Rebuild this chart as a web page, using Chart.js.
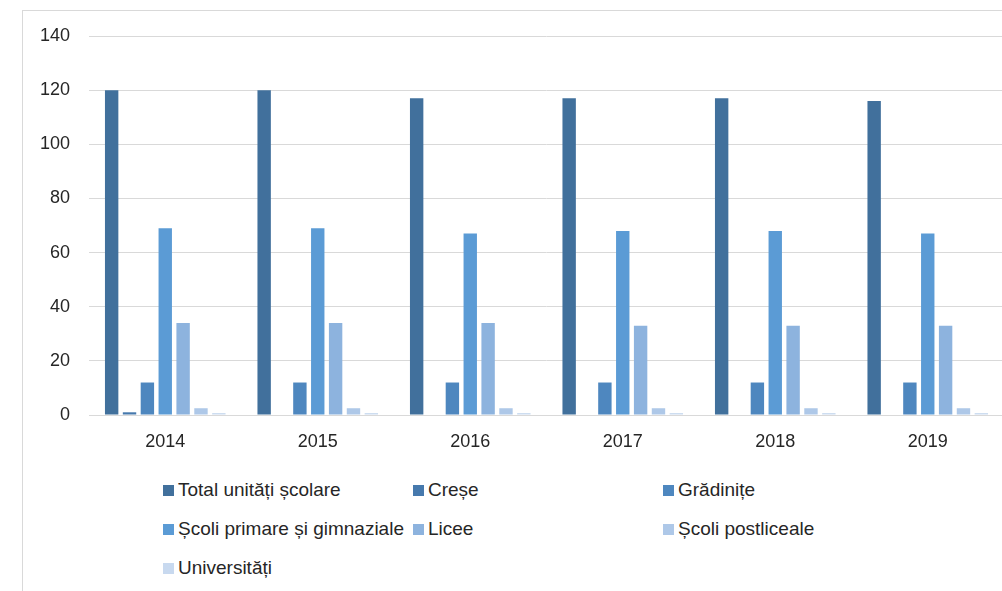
<!DOCTYPE html>
<html>
<head>
<meta charset="utf-8">
<script src="https://cdn.jsdelivr.net/npm/chart.js@4"></script>
<style>
  body { margin: 0; background: #fff; overflow: hidden; width: 1002px; height: 591px; position: relative; }
  #frame { position: absolute; left: 22px; top: 10px; width: 1100px; height: 700px; border: 1px solid #d9d9d9; }
  #wrap { position: absolute; left: 0; top: 0; }
  #legend { position: absolute; left: 0; top: 0; font-family: "Liberation Sans", Arial, sans-serif; font-size: 19px; color: #262626; }
  .item { position: absolute; white-space: nowrap; display: flex; align-items: center; height: 24px; }
  .box { width: 11px; height: 11px; margin-right: 4px; }
</style>
</head>
<body>
<div id="frame"></div>
<div id="wrap"><canvas id="schoolChart" width="1004" height="470"></canvas></div>
<div id="legend"></div>
<script>
const years = ["2014", "2015", "2016", "2017", "2018", "2019"];
const seriesNames = [
  "Total unități școlare",
  "Creșe",
  "Grădinițe",
  "Școli primare și gimnaziale",
  "Licee",
  "Școli postliceale",
  "Universități"
];
const total = [120, 120, 117, 117, 117, 116];
const crese = [1, 0, 0, 0, 0, 0];
const gradinite = [12, 12, 12, 12, 12, 12];
const scoliPrimare = [69, 69, 67, 68, 68, 67];
const licee = [34, 34, 34, 33, 33, 33];
const postliceale = [2.5, 2.5, 2.5, 2.5, 2.5, 2.5];
const universitati = [0.7, 0.7, 0.7, 0.7, 0.7, 0.7];
const yTicks = [0, 20, 40, 60, 80, 100, 120, 140];

const colors = ["#41709c", "#4679ad", "#4e87bf", "#5b9bd5", "#8db3de", "#aec8e8", "#c8d9ef"];
const values = [total, crese, gradinite, scoliPrimare, licee, postliceale, universitati];

const font = "'Liberation Sans', Arial, sans-serif";

const chart = new Chart(document.getElementById("schoolChart"), {
  type: "bar",
  data: {
    labels: years,
    datasets: seriesNames.map((name, i) => ({
      label: name,
      data: values[i],
      backgroundColor: colors[i],
      borderWidth: 0,
      categoryPercentage: 0.82,
      barPercentage: 0.75
    }))
  },
  options: {
    responsive: false,
    animation: false,
    layout: { padding: { top: 36, right: 0, bottom: 0, left: 0 } },
    plugins: { legend: { display: false }, tooltip: { enabled: false } },
    scales: {
      x: {
        grid: { display: false, drawTicks: false },
        border: { color: "#d9d9d9" },
        ticks: { color: "#262626", font: { family: font, size: 18 }, padding: 16 },
        afterFit: (s) => { s.height = 55; }
      },
      y: {
        min: 0,
        max: 140,
        grid: { color: "#d9d9d9", drawTicks: false },
        border: { display: false },
        afterBuildTicks: (s) => { s.ticks = yTicks.map((v) => ({ value: v })); },
        ticks: { color: "#262626", font: { family: font, size: 18 }, padding: 19 },
        afterFit: (s) => { s.width = 89; }
      }
    }
  }
});

// legend laid out like the Excel grid: 3 columns, rows top to bottom
const legend = document.getElementById("legend");
const colX = [163, 413, 663];
const rowY = [490, 529, 568];
chart.data.datasets.forEach((ds, i) => {
  const el = document.createElement("div");
  el.className = "item";
  el.style.left = colX[i % 3] + "px";
  el.style.top = (rowY[Math.floor(i / 3)] - 12) + "px";
  el.innerHTML = '<span class="box" style="background:' + ds.backgroundColor + '"></span>';
  el.appendChild(document.createTextNode(ds.label));
  legend.appendChild(el);
});
</script>
</body>
</html>
